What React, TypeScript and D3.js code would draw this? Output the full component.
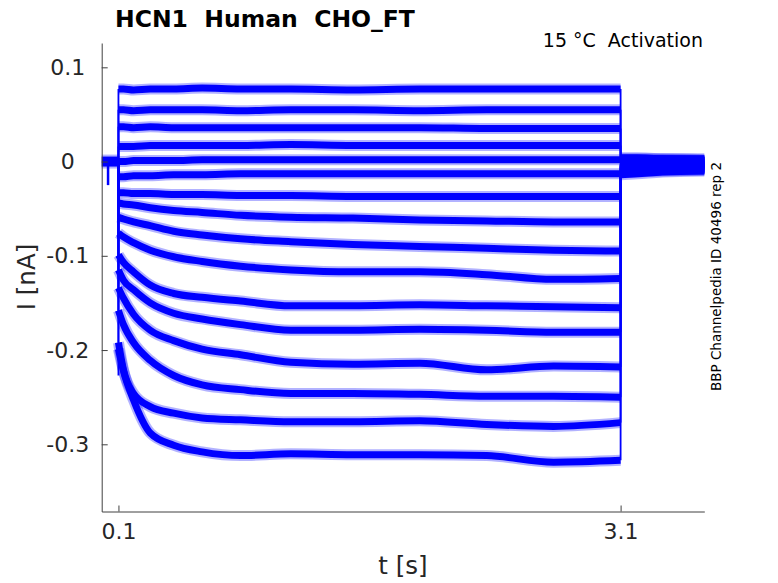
import { useRef, useEffect } from "react";
import * as d3 from "d3";

const WIDTH = 778;
const HEIGHT = 583;

// sample times of the voltage step (s)
const PULSE_T = [0.1, 0.13, 0.19, 0.29, 0.43, 0.6, 0.83, 1.13, 1.5, 1.9, 2.3, 2.7, 3.1];

// current during the step (nA), one row per sweep
const SWEEPS: number[][] = [
  [0.077, 0.077, 0.076, 0.077, 0.077, 0.078, 0.077, 0.077, 0.076, 0.077, 0.077, 0.077, 0.077],
  [0.055, 0.055, 0.054, 0.055, 0.055, 0.055, 0.054, 0.055, 0.055, 0.054, 0.055, 0.055, 0.055],
  [0.037, 0.037, 0.036, 0.037, 0.036, 0.036, 0.036, 0.036, 0.036, 0.036, 0.035, 0.035, 0.035],
  [0.016, 0.016, 0.016, 0.017, 0.017, 0.017, 0.017, 0.018, 0.017, 0.017, 0.017, 0.017, 0.017],
  [0.0, 0.0, 0.001, 0.001, 0.001, 0.002, 0.002, 0.002, 0.002, 0.002, 0.002, 0.002, 0.002],
  [-0.016, -0.016, -0.015, -0.015, -0.014, -0.014, -0.013, -0.013, -0.013, -0.013, -0.013, -0.013, -0.013],
  [-0.033, -0.033, -0.034, -0.034, -0.035, -0.035, -0.036, -0.036, -0.037, -0.037, -0.037, -0.037, -0.037],
  [-0.044, -0.045, -0.046, -0.049, -0.052, -0.054, -0.057, -0.059, -0.060, -0.062, -0.063, -0.064, -0.064],
  [-0.059, -0.061, -0.064, -0.068, -0.074, -0.078, -0.082, -0.085, -0.088, -0.090, -0.092, -0.094, -0.095],
  [-0.076, -0.080, -0.086, -0.094, -0.101, -0.106, -0.111, -0.115, -0.117, -0.117, -0.120, -0.125, -0.124],
  [-0.099, -0.107, -0.117, -0.131, -0.140, -0.144, -0.148, -0.153, -0.153, -0.152, -0.153, -0.154, -0.155],
  [-0.115, -0.126, -0.136, -0.150, -0.161, -0.167, -0.173, -0.179, -0.179, -0.178, -0.179, -0.181, -0.181],
  [-0.134, -0.145, -0.162, -0.179, -0.190, -0.199, -0.205, -0.213, -0.215, -0.214, -0.221, -0.217, -0.218],
  [-0.158, -0.173, -0.192, -0.211, -0.227, -0.237, -0.242, -0.246, -0.246, -0.247, -0.249, -0.249, -0.250],
  [-0.192, -0.221, -0.246, -0.260, -0.267, -0.272, -0.274, -0.276, -0.276, -0.275, -0.279, -0.281, -0.277],
  [-0.199, -0.222, -0.253, -0.288, -0.301, -0.308, -0.312, -0.310, -0.311, -0.311, -0.312, -0.319, -0.317],
];

// deepest point of the capacitive transient at step onset
const ONSET_PEAK = -0.227;

// holding current before the step
const BASE_T = [0, 0.1];
const BASE_I = [0, 0];

// small artefact just after the start of the sweep
const ARTIFACT_T = [0.038, 0.038];
const ARTIFACT_I = [0, -0.025];

// tail currents after the step
const TAIL_T = [3.1, 3.2, 3.35, 3.6];
const TAILS: number[][] = [
  [0.004, 0.004, 0.003, 0.003],
  [0.003, 0.003, 0.003, 0.002],
  [0.002, 0.002, 0.002, 0.001],
  [0.001, 0.001, 0.001, 0.001],
  [0.0, 0.0, 0.0, 0.0],
  [-0.001, -0.001, -0.001, -0.001],
  [-0.002, -0.002, -0.002, -0.002],
  [-0.003, -0.003, -0.003, -0.003],
  [-0.004, -0.004, -0.004, -0.004],
  [-0.005, -0.005, -0.005, -0.005],
  [-0.006, -0.006, -0.006, -0.006],
  [-0.008, -0.008, -0.007, -0.007],
  [-0.009, -0.009, -0.008, -0.008],
  [-0.011, -0.010, -0.009, -0.009],
  [-0.012, -0.011, -0.010, -0.009],
  [-0.014, -0.013, -0.011, -0.010],
];

const X_TICKS = [0.1, 3.1];
const Y_TICKS = [-0.3, -0.2, -0.1, 0, 0.1];

const TITLE = "HCN1  Human  CHO_FT";
const SUBTITLE = "15 °C  Activation";
const SIDE_NOTE = "BBP Channelpedia ID 40496 rep 2";

const FONT = "'DejaVu Sans', sans-serif";
const TEXT = "#262626";
const BLUE = "#0000ff";

export default function App() {
  const svgRef = useRef<SVGSVGElement>(null);

  useEffect(() => {
    const svg = d3.select(svgRef.current);
    svg.selectAll("*").remove();

    const x = d3.scaleLinear().domain([0, 3.6]).range([101.7, 704.3]);
    const y = d3.scaleLinear().domain([-0.3713, 0.1258]).range([511.5, 43]);

    const straight = d3.line<[number, number]>()
      .x((d) => x(d[0]))
      .y((d) => y(d[1]));
    const smooth = d3.line<[number, number]>()
      .x((d) => x(d[0]))
      .y((d) => y(d[1]))
      .curve(d3.curveMonotoneX);

    const traces = svg.append("g")
      .attr("fill", "none")
      .attr("stroke", BLUE)
      .attr("stroke-linejoin", "round");

    // noisy band: faint halo + solid core
    const band = (d: string | null, core: number) => {
      traces.append("path").attr("d", d).attr("stroke-width", core + 4).attr("stroke-opacity", 0.3);
      traces.append("path").attr("d", d).attr("stroke-width", core);
    };

    // baseline before the step
    band(straight(BASE_T.map((t, i) => [t, BASE_I[i]])), 10);

    traces.append("path")
      .attr("d", straight(ARTIFACT_T.map((t, i) => [t, ARTIFACT_I[i]])))
      .attr("stroke-width", 2.5);

    // step on / off edges
    SWEEPS.forEach((vals, k) => {
      const tail = TAILS[k];
      const first = k === SWEEPS.length - 1 ? ONSET_PEAK : vals[0];
      traces.append("path")
        .attr("d", straight([[PULSE_T[0], BASE_I[1]], [PULSE_T[0], first]]))
        .attr("stroke-width", 1.8);
      traces.append("path")
        .attr("d", straight([[TAIL_T[0], vals[vals.length - 1]], [TAIL_T[0], tail[0]]]))
        .attr("stroke-width", 1.8);
    });

    SWEEPS.forEach((vals, k) => {
      band(smooth(PULSE_T.map((t, i) => [t, vals[i]])), 7);
      band(smooth(TAIL_T.map((t, i) => [t, TAILS[k][i]])), 7);
    });

    // axes
    const fmt = (d: d3.NumberValue) => String(+d);

    const yAxis = svg.append("g")
      .attr("transform", `translate(${x.range()[0]},0)`)
      .call(d3.axisLeft(y).tickValues(Y_TICKS).tickFormat(fmt).tickSizeInner(-6).tickSizeOuter(0).tickPadding(34));
    yAxis.selectAll("text")
      .attr("text-anchor", "middle")
      .attr("font-size", 22)
      .attr("font-family", FONT)
      .attr("fill", TEXT);

    const xAxis = svg.append("g")
      .attr("transform", `translate(0,${y.range()[0]})`)
      .call(d3.axisBottom(x).tickValues(X_TICKS).tickFormat(fmt).tickSizeInner(-6).tickSizeOuter(0).tickPadding(12));
    xAxis.selectAll("text")
      .attr("font-size", 22)
      .attr("font-family", FONT)
      .attr("fill", TEXT);

    [yAxis, xAxis].forEach((ax) => {
      ax.selectAll("path, line").attr("stroke", "#404040").attr("stroke-width", 1);
    });

    // labels
    const label = (txt: string) =>
      svg.append("text")
        .style("white-space", "pre")
        .attr("font-family", FONT)
        .text(txt);

    label("t [s]")
      .attr("x", (x.range()[0] + x.range()[1]) / 2)
      .attr("y", 574)
      .attr("text-anchor", "middle")
      .attr("font-size", 24.5)
      .attr("fill", TEXT);

    label("I [nA]")
      .attr("transform", `translate(35,277) rotate(-90)`)
      .attr("text-anchor", "middle")
      .attr("font-size", 24.5)
      .attr("fill", TEXT);

    label(TITLE)
      .attr("x", 115)
      .attr("y", 27)
      .attr("font-size", 23.5)
      .attr("font-weight", 700)
      .attr("fill", "#000");

    label(SUBTITLE)
      .attr("x", 703)
      .attr("y", 47)
      .attr("text-anchor", "end")
      .attr("font-size", 19)
      .attr("fill", "#000");

    label(SIDE_NOTE)
      .attr("transform", `translate(720.5,276.5) rotate(-90)`)
      .attr("text-anchor", "middle")
      .attr("font-size", 13.5)
      .attr("fill", "#000");
  }, []);

  return (
    <svg
      ref={svgRef}
      width={WIDTH}
      height={HEIGHT}
      viewBox={`0 0 ${WIDTH} ${HEIGHT}`}
      style={{ position: "absolute", left: 0, top: 0, background: "#fff" }}
    />
  );
}
